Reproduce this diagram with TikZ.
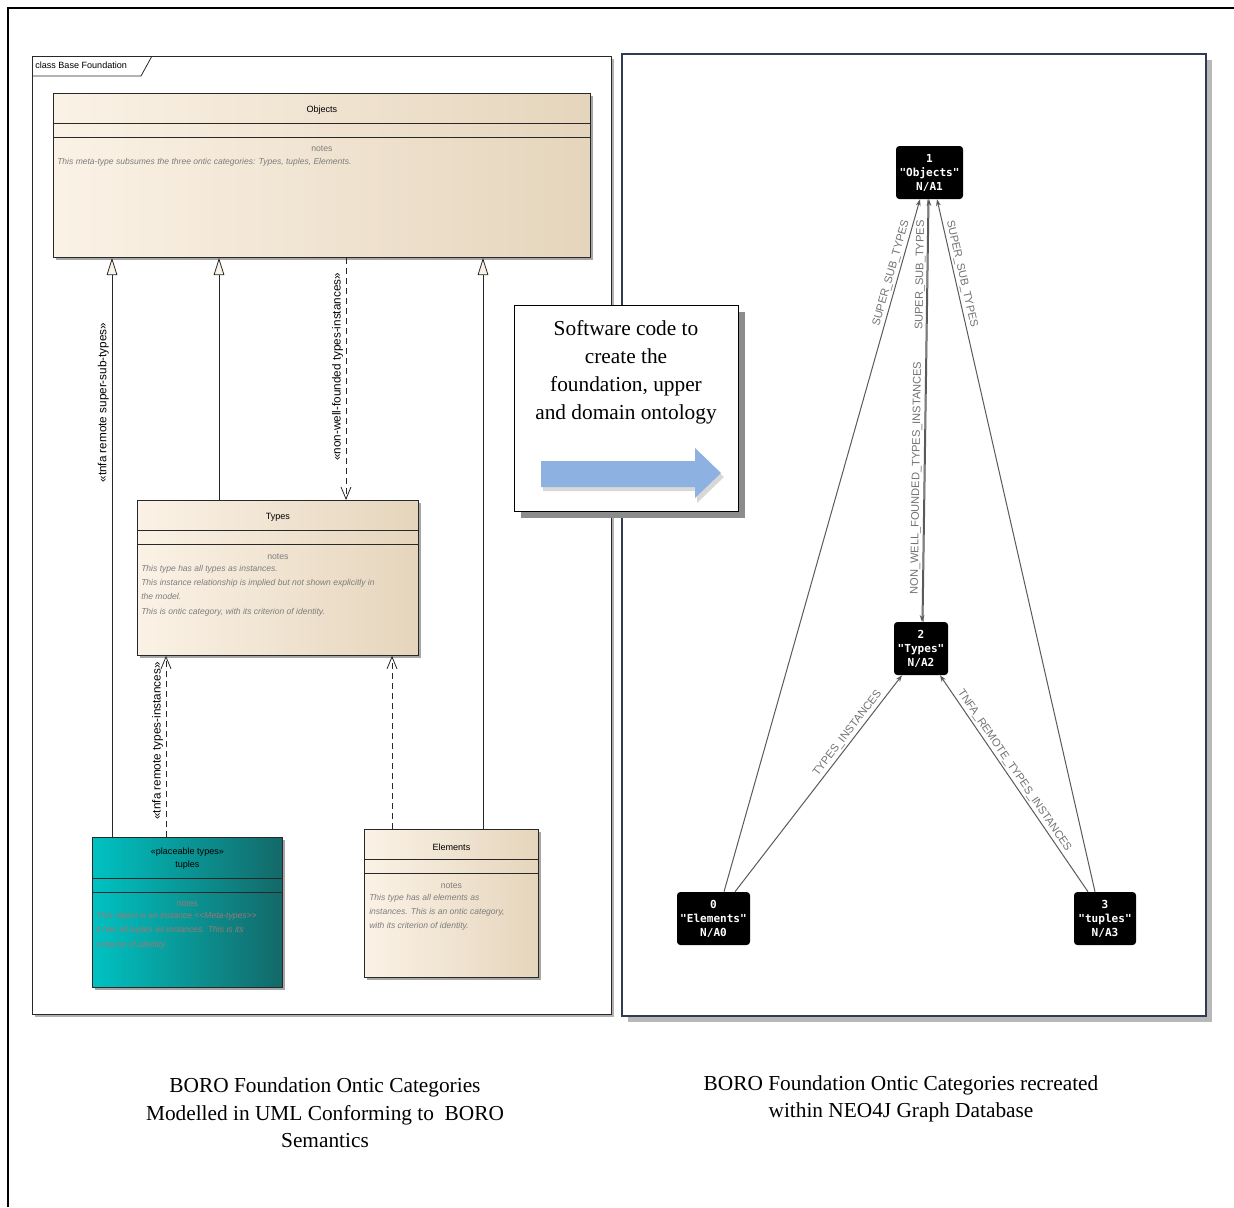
\documentclass[tikz,border=0pt]{standalone}
\usepackage{fontspec}
\setmainfont{Liberation Serif}
\setsansfont{Liberation Sans}
\setmonofont{DejaVu Sans Mono}
\usetikzlibrary{arrows.meta,calc,shadows}

% one unit of the picture
\newdimen\pxu \pxu=0.75pt

\definecolor{creamL}{RGB}{251,242,230}
\definecolor{creamR}{RGB}{229,213,188}
\definecolor{tealL}{RGB}{0,194,194}
\definecolor{tealR}{RGB}{20,104,104}
\definecolor{umlline}{RGB}{40,40,40}
\definecolor{notegray}{RGB}{125,125,125}
\definecolor{tupnote}{RGB}{158,120,116}
\definecolor{panelborder}{RGB}{48,60,82}
\definecolor{edgegray}{RGB}{90,90,90}
\definecolor{labelgray}{RGB}{115,115,115}
\definecolor{arrowblue}{RGB}{141,178,225}

\begin{document}
\begin{tikzpicture}[x=0.75pt,y=-0.75pt,
  sh/.style={general shadow={fill=black!#1, shadow xshift=2.2pt, shadow yshift=-2.2pt}},
  umlbox/.style={draw=umlline, line width=0.6pt, anchor=north west, inner sep=0, sh=35},
  cream/.style={left color=creamL, middle color=creamL, right color=creamR},
  tealfill/.style={left color=tealL, middle color=tealL, right color=tealR},
  umlsep/.style={draw=umlline, line width=0.7pt},
  umltitle/.style={font=\fontsize{6.8}{8}\sffamily, inner sep=0},
  notehead/.style={font=\fontsize{6.5}{8}\sffamily, text=notegray, inner sep=0},
  notetext/.style={font=\fontsize{6.4}{10.7}\sffamily\itshape, text=notegray, anchor=north west, align=left, inner sep=0},
  gen/.style={draw=umlline, line width=0.6pt, -{Triangle[length=13pt,width=8pt,fill=creamL]}},
  dep/.style={draw=umlline, line width=0.6pt, dash pattern=on 4.5pt off 3pt, -{Straight Barb[length=9pt,width=7.5pt]}},
  umllab/.style={font=\fontsize{8.8}{10}\sffamily, rotate=90, anchor=south, inner sep=2pt},
  gnode/.style={fill=black, rounded corners=2.5pt, text=white, align=center, inner sep=0, font=\fontsize{8.3}{10.5}\ttfamily\bfseries},
  gedge/.style={draw=edgegray, line width=0.75pt, -{Stealth[length=5pt,width=3.6pt]}},
  glabel/.style={font=\fontsize{8.3}{10}\sffamily, text=labelgray, sloped, above, inner sep=1.5pt},
  caption/.style={font=\fontsize{16}{20.5}\selectfont, align=center}
]
\useasboundingbox (0,0) rectangle (1234,1207);
\fill[white] (0,0) rectangle (1234,1207);

% outer page frame
\draw[line width=0.9pt] (8,1207) -- (8,8) -- (1234,8);

% ---------------- UML class diagram ----------------
\node[draw=umlline, line width=0.6pt, fill=white, anchor=north west, inner sep=0, sh=30,
      minimum width=579\pxu, minimum height=958\pxu] (umlframe) at (32,56) {};
\draw[umlline, line width=0.6pt] (32,76) -- (141,76) -- (152,56);
\node[font=\fontsize{6.8}{8}\sffamily, anchor=west, inner sep=0] (frametitle) at (35,65) {class Base Foundation};

% Objects
\node[umlbox, cream, minimum width=537\pxu, minimum height=164\pxu] (objects) at (53,93) {};
\node[umltitle] (objectsT) at ($(objects.north)+(0,17)$) {Objects};
\draw[umlsep] ($(objects.north west)+(0,30)$) -- ($(objects.north east)+(0,30)$);
\draw[umlsep] ($(objects.north west)+(0,44)$) -- ($(objects.north east)+(0,44)$);
\node[notehead] (objectsH) at ($(objects.north)+(0,56)$) {notes};
\node[notetext] (objectsN) at ($(objects.north west)+(4,65)$) {This meta-type subsumes the three ontic categories: Types, tuples, Elements.};

% Types
\node[umlbox, cream, minimum width=281\pxu, minimum height=155\pxu] (types) at (137,500) {};
\node[umltitle] (typesT) at ($(types.north)+(0,17)$) {Types};
\draw[umlsep] ($(types.north west)+(0,30)$) -- ($(types.north east)+(0,30)$);
\draw[umlsep] ($(types.north west)+(0,44)$) -- ($(types.north east)+(0,44)$);
\node[notehead] (typesH) at ($(types.north)+(0,57)$) {notes};
\node[notetext] (typesN) at ($(types.north west)+(4,65)$) {This type has all types as instances.\\This instance relationship is implied but not shown explicitly in\\the model.\\This is ontic category, with its criterion of identity.};

% tuples
\node[umlbox, tealfill, minimum width=190\pxu, minimum height=150\pxu] (tuples) at (92,837) {};
\node[umltitle] (tuplesS) at ($(tuples.north)+(0,15)$) {«placeable types»};
\node[umltitle] (tuplesT) at ($(tuples.north)+(0,28)$) {tuples};
\draw[umlsep] ($(tuples.north west)+(0,41)$) -- ($(tuples.north east)+(0,41)$);
\draw[umlsep] ($(tuples.north west)+(0,55)$) -- ($(tuples.north east)+(0,55)$);
\node[notehead, text=tupnote] (tuplesH) at ($(tuples.north)+(0,67)$) {notes};
\node[notetext, text=tupnote] (tuplesN) at ($(tuples.north west)+(4,75)$) {This object is an instance <{}<Meta-types>{}>\\it has all tuples as instances. This is its\\criterion of identity};

% Elements
\node[umlbox, cream, minimum width=174\pxu, minimum height=148\pxu] (elements) at (364,829) {};
\node[umltitle] (elementsT) at ($(elements.north)+(0,18)$) {Elements};
\draw[umlsep] ($(elements.north west)+(0,30)$) -- ($(elements.north east)+(0,30)$);
\draw[umlsep] ($(elements.north west)+(0,44)$) -- ($(elements.north east)+(0,44)$);
\node[notehead] (elementsH) at ($(elements.north)+(0,57)$) {notes};
\node[notetext] (elementsN) at ($(elements.north west)+(5,65)$) {This type has all elements as\\instances. This is an ontic category,\\with its criterion of identity.};

% connector columns
\coordinate (xa) at (112,0);
\coordinate (xb) at (219,0);
\coordinate (xc) at (483,0);
\coordinate (xd) at (346,0);
\coordinate (xe) at (166,0);
\coordinate (xf) at (392,0);

\draw[gen] (tuples.north -| xa) -- node[umllab, pos=0.75] (labA) {«tnfa remote super-sub-types»} (objects.south -| xa);
\draw[gen] (types.north -| xb) -- (objects.south -| xb);
\draw[gen] (elements.north -| xc) -- (objects.south -| xc);
\draw[dep] (objects.south -| xd) -- node[umllab, pos=0.45] (labD) {«non-well-founded types-instances»} (types.north -| xd);
\draw[dep] (tuples.north -| xe) -- node[umllab, pos=0.53] (labE) {«tnfa remote types-instances»} (types.south -| xe);
\draw[dep] (elements.north -| xf) -- (types.south -| xf);

% ---------------- graph database view ----------------
\node[draw=panelborder, line width=1.2pt, fill=white, anchor=north west, inner sep=0,
      general shadow={fill=black!28, shadow xshift=5pt, shadow yshift=-5pt},
      minimum width=584\pxu, minimum height=962\pxu] (graphpanel) at (621,53) {};

\node[gnode, minimum width=67\pxu, minimum height=53\pxu] (obj) at (929.5,172.5) {1\\"Objects"\\N/A1};
\node[gnode, minimum width=54\pxu, minimum height=53\pxu] (typ) at (921,648.5) {2\\"Types"\\N/A2};
\node[gnode, minimum width=73\pxu, minimum height=53\pxu] (elm) at (713.5,918.5) {0\\"Elements"\\N/A0};
\node[gnode, minimum width=62\pxu, minimum height=53\pxu] (tup) at (1105,918.5) {3\\"tuples"\\N/A3};

\draw[gedge] ($(elm.north)+(10.5,0)$) -- node[glabel, pos=0.89] (gl1) {SUPER\_SUB\_TYPES} ($(obj.south)+(-9.5,0)$);
\draw[gedge] ($(typ.north)+(2,0)$) -- node[glabel, pos=0.82] (gl2) {SUPER\_SUB\_TYPES} ($(obj.south)+(-0.5,0)$);
\draw[gedge] ($(obj.south)+(-1.5,0)$) -- node[glabel, pos=0.66] (gl3) {NON\_WELL\_FOUNDED\_TYPES\_INSTANCES} ($(typ.north)+(1,0)$);
\draw[gedge] ($(tup.north)+(-10,0)$) -- node[glabel, pos=0.89] (gl4) {SUPER\_SUB\_TYPES} ($(obj.south)+(7.5,0)$);
\draw[gedge] ($(elm.north)+(21.5,0)$) -- node[glabel, pos=0.71] (gl5) {TYPES\_INSTANCES} ($(typ.south)+(-19,0)$);
\draw[gedge] ($(tup.north)+(-17,0)$) -- node[glabel, pos=0.54] (gl6) {TNFA\_REMOTE\_TYPES\_INSTANCES} ($(typ.south)+(19,0)$);

% ---------------- transformation box ----------------
\node[draw, line width=0.8pt, fill=white, anchor=north west, inner sep=0,
      general shadow={fill=black!45, shadow xshift=4.5pt, shadow yshift=-4.5pt},
      minimum width=224\pxu, minimum height=206\pxu] (sw) at (514,305) {};
\node[font=\fontsize{16}{21}\selectfont, align=center, inner sep=0] (swtext) at (626,372)
  {Software code to\\create the\\foundation, upper\\and domain ontology};
% block arrow
\fill[black!25, opacity=0.6] (543,465) -- (697,465) -- (697,452) -- (724,477) -- (697,503) -- (697,491) -- (543,491) -- cycle;
\fill[arrowblue] (541,461) -- (695,461) -- (695,448) -- (721,473) -- (695,498) -- (695,487) -- (541,487) -- cycle;

% ---------------- captions ----------------
\node[caption] (capL) at (325,1113) {BORO Foundation Ontic Categories\\Modelled in UML Conforming to\ \ BORO\\Semantics};
\node[caption] (capR) at (901,1099) {BORO Foundation Ontic Categories recreated\\within NEO4J Graph Database};

\end{tikzpicture}
\end{document}
